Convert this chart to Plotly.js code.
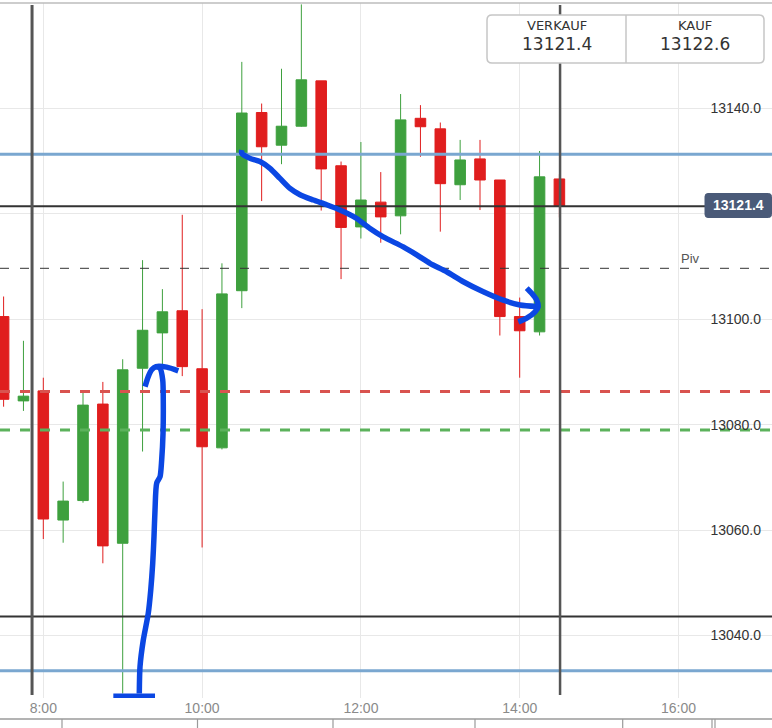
<!DOCTYPE html>
<html>
<head>
<meta charset="utf-8">
<script src="https://cdn.plot.ly/plotly-3.0.1.min.js"></script>
<style>
  html, body { margin: 0; padding: 0; background: #ffffff; }
  #chart { width: 772px; height: 728px; }
</style>
</head>
<body>
<div id="chart"></div>
<script>
// ---------- data ----------
const candleTimes = ['7:30','7:45','8:00','8:15','8:30','8:45','9:00','9:15','9:30','9:45',
  '10:00','10:15','10:30','10:45','11:00','11:15','11:30','11:45','12:00','12:15',
  '12:30','12:45','13:00','13:15','13:30','13:45','14:00','14:15','14:30'];
const openVals  = [13100.5,13084.5,13086.4,13061.9,13065.6,13083.9,13057.5,13090.7,13097.4,13101.6,
  13090.6,13075.6,13105.4,13139.2,13133.0,13136.6,13145.2,13129.1,13117.5,13122.2,
  13119.6,13138.1,13136.1,13125.5,13130.4,13126.4,13100.5,13097.6,13126.6];
const highVals  = [13104.3,13095.9,13088.9,13069.2,13086.4,13088.1,13092.4,13111.2,13105.7,13119.8,
  13101.9,13110.6,13148.8,13140.9,13147.5,13159.7,13145.2,13129.9,13133.6,13127.9,
  13142.7,13140.6,13137.3,13134.0,13134.0,13126.4,13104.1,13131.9,13127.5];
const lowVals   = [13083.4,13082.6,13058.3,13057.6,13065.2,13053.7,13029.0,13074.9,13090.0,13089.2,
  13056.7,13075.3,13102.1,13122.4,13129.4,13136.5,13120.6,13107.6,13115.3,13114.5,
  13116.1,13130.8,13116.6,13122.6,13120.7,13096.9,13088.9,13096.9,13119.3];
const closeVals = [13084.8,13085.4,13062.1,13065.5,13083.7,13057.0,13090.4,13097.9,13101.4,13091.0,
  13075.8,13104.8,13139.1,13132.7,13136.6,13145.4,13128.5,13117.4,13122.6,13119.4,
  13137.8,13136.5,13125.7,13130.2,13126.4,13100.5,13097.8,13127.0,13121.4];

const xTickVals  = [8, 10, 12, 14, 16];
const xTickText  = ['8:00', '10:00', '12:00', '14:00', '16:00'];
const yTickVals  = [13040, 13060, 13080, 13100, 13120, 13140];
// 13120.0 is hidden behind the last-price label in the original
const yTickText  = ['13040.0', '13060.0', '13080.0', '13100.0', '', '13140.0'];

const sellPrice = 13121.4;          // VERKAUF / last price
const buyPrice  = 13122.6;          // KAUF
const blueLevels = [13131.3, 13033.3];
const darkLevels = [13121.4, 13043.6];
const pivotLevel = 13109.65;
const redDashLevel = 13086.3;
const greenDashLevel = 13079.0;
const vLineTimes = ['7:51:30', '14:30:30'];

// hand-drawn pen strokes (hours, price)
const penBarX   = [8.882, 9.407];
const penBarY   = [13028.5, 13028.5];
const penShaftX = [9.209, 9.218, 9.259, 9.322, 9.353, 9.378, 9.394, 9.407, 9.428, 9.470, 9.491, 9.508, 9.511, 9.504, 9.470, 9.419];
const penShaftY = [13029.0, 13034.1, 13039.1, 13044.2, 13048.6, 13053.7, 13058.7, 13063.8, 13068.9, 13070.1, 13073.3, 13078.4, 13084.7, 13088.5, 13090.7, 13091.0];
const penHookX  = [9.281, 9.322, 9.365, 9.419, 9.554, 9.700];
const penHookY  = [13087.2, 13089.1, 13090.4, 13091.0, 13090.9, 13090.2];
const penDownX  = [10.499, 10.499, 10.603, 10.729, 10.855, 10.981, 11.107, 11.233, 11.401, 11.569, 11.737, 11.947, 12.115, 12.282, 12.534, 12.703, 12.870, 13.081, 13.290, 13.542, 13.793, 14.004, 14.214];
const penDownY  = [13132.1, 13131.5, 13130.5, 13129.9, 13128.6, 13126.7, 13124.8, 13123.6, 13122.6, 13121.7, 13120.7, 13119.1, 13117.2, 13115.6, 13113.7, 13112.2, 13110.6, 13109.0, 13107.1, 13105.2, 13103.6, 13102.7, 13102.4];
const penHeadX  = [14.088, 14.151, 14.214, 14.234, 14.193, 14.088, 13.982];
const penHeadY  = [13105.9, 13104.9, 13103.6, 13102.4, 13101.4, 13100.2, 13099.5];

// ---------- helpers ----------
function toHours(s) { const p = s.split(':').map(Number); return p[0] + (p[1] || 0) / 60 + (p[2] || 0) / 3600; }
const W = 772, H = 728, MT = 3, MB = 30;
const plotBottom = H - MB, plotH = H - MT - MB;
const px = v => v / W;
const py = v => (plotBottom - v) / plotH;
function roundRect(x0, y0, x1, y1, r) {
  const X = px, Y = py;
  return 'M ' + X(x0 + r) + ',' + Y(y0) +
    ' L ' + X(x1 - r) + ',' + Y(y0) + ' Q ' + X(x1) + ',' + Y(y0) + ' ' + X(x1) + ',' + Y(y0 + r) +
    ' L ' + X(x1) + ',' + Y(y1 - r) + ' Q ' + X(x1) + ',' + Y(y1) + ' ' + X(x1 - r) + ',' + Y(y1) +
    ' L ' + X(x0 + r) + ',' + Y(y1) + ' Q ' + X(x0) + ',' + Y(y1) + ' ' + X(x0) + ',' + Y(y1 - r) +
    ' L ' + X(x0) + ',' + Y(y0 + r) + ' Q ' + X(x0) + ',' + Y(y0) + ' ' + X(x0 + r) + ',' + Y(y0) + ' Z';
}

const xRange = [7.4547, 17.1776];
const yRange = [13028.15, 13159.97];
const xHours = candleTimes.map(toHours);

const GREEN = '#3ea03e', RED = '#e01e1e';
const PEN = '#0b47e3';

function hLine(y, color, width, dash) {
  return { type: 'scatter', mode: 'lines', x: xRange, y: [y, y], hoverinfo: 'skip', showlegend: false,
           line: { color: color, width: width, dash: dash || 'solid' } };
}
function vLine(t, color, width) {
  const h = toHours(t);
  return { type: 'scatter', mode: 'lines', x: [h, h], y: [13028.7, 13159.6], hoverinfo: 'skip', showlegend: false,
           line: { color: color, width: width } };
}
function pen(x, y) {
  return { type: 'scatter', mode: 'lines', x: x, y: y, hoverinfo: 'skip', showlegend: false,
           line: { color: PEN, width: 5.5, shape: 'spline', smoothing: 0.7 } };
}

const traces = [
  { type: 'candlestick', x: xHours, open: openVals, high: highVals, low: lowVals, close: closeVals,
    increasing: { line: { color: GREEN, width: 1 }, fillcolor: GREEN },
    decreasing: { line: { color: RED, width: 1 }, fillcolor: RED },
    whiskerwidth: 0, hoverinfo: 'skip', showlegend: false },
  hLine(pivotLevel, '#333333', 1, '9px,11px'),
  hLine(redDashLevel, '#d9534f', 3, '10px,10px'),
  hLine(greenDashLevel, '#5cb25c', 3, '10px,10px'),
  hLine(blueLevels[0], '#7aa7d0', 3),
  hLine(blueLevels[1], '#7aa7d0', 3),
  hLine(darkLevels[0], '#333333', 2),
  hLine(darkLevels[1], '#333333', 2),
  vLine(vLineTimes[0], '#555555', 3),
  vLine(vLineTimes[1], '#555555', 2.5),
  pen(penBarX, penBarY),
  pen(penShaftX, penShaftY),
  pen(penHookX, penHookY),
  pen(penDownX, penDownY),
  pen(penHeadX, penHeadY)
];

const shapes = [
  { type: 'line', xref: 'paper', yref: 'paper', x0: 0, x1: 1, y0: 1, y1: 1, line: { color: '#bdbdbd', width: 1.5 }, layer: 'above' },
  // top quote box
  { type: 'path', xref: 'paper', yref: 'paper', path: roundRect(487, 15, 764, 63, 5), fillcolor: '#ffffff', line: { color: '#c6c6c6', width: 1.5 }, layer: 'above' },
  { type: 'line', xref: 'paper', yref: 'paper', x0: px(626), x1: px(626), y0: py(15), y1: py(63), line: { color: '#c6c6c6', width: 1.5 }, layer: 'above' },
  // last price label
  { type: 'path', xref: 'paper', yref: 'paper', path: roundRect(705, 193.5, 771.5, 217.5, 3), fillcolor: '#4a5a78', line: { color: '#4a5a78', width: 1 }, layer: 'above' },
  // navigator strip
  { type: 'line', xref: 'paper', yref: 'paper', x0: 0, x1: 1, y0: py(719), y1: py(719), line: { color: '#9a9a9a', width: 1.5 }, layer: 'above' }
];
[62, 197.5, 333, 475, 622.7, 712, 715].forEach(function (xv) {
  shapes.push({ type: 'line', xref: 'paper', yref: 'paper', x0: px(xv), x1: px(xv), y0: py(719), y1: py(729),
                line: { color: '#9a9a9a', width: 1.2 }, layer: 'above' });
});

function label(x, y, text, size, family, color) {
  return { xref: 'paper', yref: 'paper', x: px(x), y: py(y), xanchor: 'center', yanchor: 'middle',
           text: text, showarrow: false, font: { family: family, size: size, color: color } };
}
const DV = 'DejaVu Sans, Verdana, sans-serif';
const LS = 'Liberation Sans, Arial, sans-serif';
const annotations = [
  label(556.5, 25.5, 'VERKAUF', 13, DV, '#333333'),
  label(556.5, 43.5, sellPrice.toFixed(1), 17, DV, '#333333'),
  label(694.5, 25.5, 'KAUF', 13, DV, '#333333'),
  label(694.5, 43.5, buyPrice.toFixed(1), 17, DV, '#333333'),
  label(738, 205.5, '<b>' + sellPrice.toFixed(1) + '</b>', 14, LS, '#ffffff'),
  { xref: 'paper', yref: 'y', x: px(690.5), y: pivotLevel, xanchor: 'center', yanchor: 'bottom', yshift: 0,
    text: 'Piv', showarrow: false, font: { family: LS, size: 13, color: '#555555' } }
];

const layout = {
  width: W, height: H,
  margin: { l: 0, r: 0, t: MT, b: MB, pad: 0 },
  paper_bgcolor: '#ffffff', plot_bgcolor: '#ffffff',
  showlegend: false,
  boxgap: 0.24,
  hovermode: false,
  font: { family: LS, color: '#333333' },
  xaxis: {
    type: 'linear', range: xRange, fixedrange: true,
    tickmode: 'array', tickvals: xTickVals, ticktext: xTickText,
    showgrid: true, gridcolor: '#e8e8e8', gridwidth: 1,
    zeroline: false, showline: false, ticks: '',
    tickfont: { size: 14, color: '#8a8a8a' },
    rangeslider: { visible: false }
  },
  yaxis: {
    type: 'linear', range: yRange, fixedrange: true, side: 'right',
    tickmode: 'array', tickvals: yTickVals, ticktext: yTickText,
    ticklabelposition: 'inside', ticks: '', ticklabelstandoff: 8,
    showgrid: true, gridcolor: '#e8e8e8', gridwidth: 1,
    zeroline: false, showline: false,
    tickfont: { size: 14, color: '#333333' }
  },
  shapes: shapes,
  annotations: annotations
};

Plotly.newPlot('chart', traces, layout, { staticPlot: true, displayModeBar: false });
</script>
</body>
</html>
